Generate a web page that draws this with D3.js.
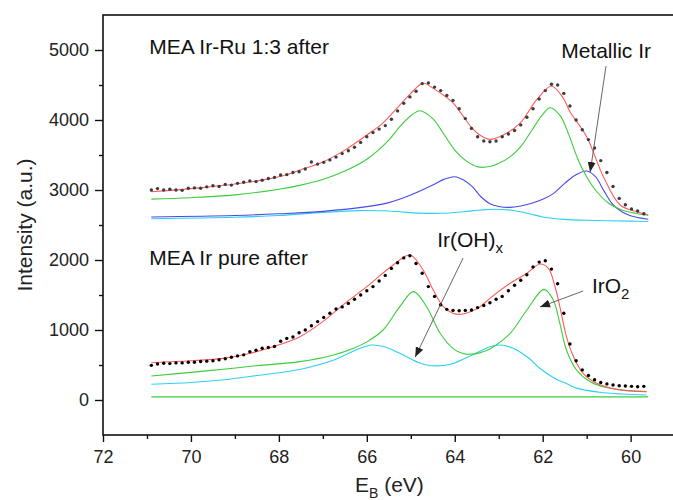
<!DOCTYPE html>
<html>
<head>
<meta charset="utf-8">
<script src="https://cdn.jsdelivr.net/npm/d3@7"></script>
<style>
  body { margin: 0; background: #fff; }
  svg { font-family: "Liberation Sans", Arial, sans-serif; }
</style>
</head>
<body>
<svg id="chart" width="673" height="500"></svg>
<script>
// binding energy axis of the measured points (eV), 0.14 eV steps
const eStart = 70.9, eStep = 0.14;

// measured points, MEA Ir-Ru 1:3 after
const dotsTop = [3000, 3020, 3000, 3010, 3000, 2995, 3025, 3030, 3025, 3045,
  3060, 3050, 3080, 3070, 3095, 3110, 3130, 3120, 3140, 3165,
  3180, 3215, 3220, 3250, 3260, 3300, 3400, 3370, 3395, 3430,
  3470, 3520, 3560, 3610, 3680, 3760, 3820, 3870, 3920, 4010,
  4130, 4240, 4330, 4410, 4520, 4530, 4470, 4420, 4350, 4280,
  4160, 4020, 3880, 3760, 3700, 3690, 3700, 3760, 3800, 3850,
  3930, 4040, 4160, 4300, 4420, 4510, 4500, 4380, 4200, 4000,
  3860, 3720, 3600, 3420, 3250, 3050, 2880, 2790, 2730, 2700, 2660];

// measured points, MEA Ir pure after
const dotsBottom = [495, 515, 525, 520, 530, 530, 540, 540, 550, 555,
  560, 575, 590, 610, 630, 645, 690, 710, 740, 750,
  765, 840, 880, 900, 960, 1000, 1060, 1120, 1180, 1240,
  1300, 1330, 1380, 1440, 1500, 1560, 1620, 1700, 1780, 1880,
  1960, 2030, 2060, 1950, 1810, 1620, 1480, 1360, 1295, 1280,
  1275, 1280, 1285, 1320, 1350, 1390, 1440, 1480, 1560, 1640,
  1710, 1790, 1900, 1970, 1990, 1870, 1660, 1240, 800, 560,
  430, 350, 290, 250, 230, 215, 205, 200, 195, 190, 195];

// fitted curves [eV, intensity]
const envTop = [[70.9, 2975], [70.0, 3020], [69.0, 3085], [68.0, 3190], [67.5, 3290],
  [67.0, 3400], [66.5, 3570], [66.0, 3786], [65.63, 3960], [65.25, 4214], [65.0, 4381],
  [64.8, 4500], [64.7, 4524], [64.49, 4452], [64.26, 4357], [64.03, 4238], [63.8, 4048],
  [63.6, 3880], [63.43, 3786], [63.2, 3724], [62.9, 3786], [62.52, 3952], [62.14, 4286],
  [61.8, 4486], [61.53, 4310], [61.38, 4119], [61.0, 3762], [60.62, 3190], [60.24, 2786],
  [59.86, 2690], [59.6, 2643]];
const oxideTop = [[70.9, 2870], [70.0, 2890], [69.0, 2930], [68.0, 3010], [67.5, 3070],
  [67.0, 3150], [66.5, 3270], [66.0, 3440], [65.5, 3714], [65.25, 3905], [65.0, 4060],
  [64.8, 4133], [64.5, 4020], [64.25, 3800], [64.0, 3570], [63.75, 3420], [63.47, 3330],
  [63.2, 3335], [63.0, 3381], [62.75, 3470], [62.5, 3620], [62.25, 3850], [62.0, 4080],
  [61.83, 4176], [61.6, 4060], [61.4, 3780], [61.2, 3440], [61.0, 3190], [60.8, 3000],
  [60.5, 2810], [60.2, 2714], [59.9, 2667], [59.6, 2640]];
const metalTop = [[70.9, 2615], [69.0, 2635], [68.0, 2660], [67.0, 2695], [66.0, 2762],
  [65.5, 2820], [65.0, 2929], [64.5, 3071], [64.25, 3152], [64.0, 3190], [63.8, 3143],
  [63.6, 3048], [63.4, 2900], [63.2, 2805], [63.0, 2765], [62.75, 2752], [62.5, 2771],
  [62.25, 2810], [62.0, 2867], [61.75, 2952], [61.5, 3095], [61.25, 3214], [61.0, 3271],
  [60.8, 3190], [60.6, 2980], [60.4, 2790], [60.2, 2690], [60.0, 2633], [59.6, 2581]];
const hydroxTop = [[70.9, 2590], [69.0, 2610], [68.0, 2635], [67.0, 2680], [66.2, 2705],
  [65.5, 2700], [64.8, 2670], [64.3, 2668], [63.8, 2690], [63.4, 2715], [63.1, 2724],
  [62.7, 2710], [62.3, 2660], [62.0, 2615], [61.5, 2580], [61.0, 2568], [60.0, 2555],
  [59.6, 2550]];

const envBottom = [[70.9, 533], [70.0, 560], [69.27, 595], [68.7, 660], [68.13, 762],
  [67.52, 905], [67.0, 1120], [66.5, 1380], [66.0, 1619], [65.4, 1929], [65.02, 2071],
  [64.72, 1857], [64.49, 1571], [64.26, 1333], [64.03, 1235], [63.85, 1225], [63.6, 1270],
  [63.43, 1330], [63.2, 1452], [62.74, 1667], [62.36, 1810], [62.06, 1943], [61.87, 1881],
  [61.72, 1619], [61.61, 1333], [61.46, 905], [61.3, 619], [61.08, 381], [60.77, 238],
  [60.32, 152], [59.64, 119]];
const oxideBottom = [[70.9, 343], [70.0, 395], [69.26, 440], [68.5, 490], [67.52, 548],
  [66.76, 643], [66.3, 740], [66.0, 830], [65.63, 1000], [65.25, 1333], [64.94, 1548],
  [64.64, 1333], [64.34, 960], [64.03, 730], [63.8, 660], [63.6, 655], [63.4, 680],
  [63.2, 730], [62.74, 952], [62.36, 1286], [61.97, 1581], [61.76, 1429], [61.61, 1095],
  [61.46, 714], [61.23, 429], [60.92, 262], [60.47, 167], [59.64, 119]];
const hydroxBottom = [[70.9, 224], [70.0, 250], [69.3, 286], [68.5, 350], [67.5, 440],
  [66.75, 570], [66.3, 700], [66.0, 771], [65.9, 786], [65.6, 760], [65.25, 667],
  [64.8, 530], [64.5, 490], [64.1, 510], [63.75, 600], [63.45, 690], [63.2, 762],
  [62.97, 786], [62.7, 745], [62.3, 590], [62.06, 450], [61.7, 300], [61.46, 235],
  [61.23, 170], [60.7, 110], [60.2, 85], [59.64, 71]];
const baseBottom = [[70.9, 45], [59.6, 45]];

// ticks
const xMajor = [72, 70, 68, 66, 64, 62, 60];
const xMinor = [71, 69, 67, 65, 63, 61];
const yMajor = [0, 1000, 2000, 3000, 4000, 5000];
const yMinor = [500, 1500, 2500, 3500, 4500];

const svg = d3.select("#chart");
const margin = { left: 103, right: 674.6, top: 15, bottom: 435 };

const x = d3.scaleLinear().domain([72, 59]).range([margin.left, margin.right]);
const y = d3.scaleLinear().domain([-500, 5500]).range([margin.bottom, margin.top]);

const line = d3.line()
  .x(d => x(d[0]))
  .y(d => y(d[1]))
  .curve(d3.curveCatmullRom.alpha(0.5));

const plot = svg.append("g");

function drawCurve(data, color) {
  plot.append("path")
    .datum(data)
    .attr("fill", "none")
    .attr("stroke", color)
    .attr("stroke-width", 1.1)
    .attr("d", line);
}

drawCurve(hydroxTop, "#2ad0f5");
drawCurve(metalTop, "#4a4ae8");
drawCurve(oxideTop, "#3ccc3c");
drawCurve(envTop, "#ff5a5a");

drawCurve(baseBottom, "#3ccc3c");
drawCurve(hydroxBottom, "#2ad0f5");
drawCurve(oxideBottom, "#3ccc3c");
drawCurve(envBottom, "#ff5a5a");

function drawDots(values, color) {
  plot.append("g")
    .selectAll("circle")
    .data(values)
    .join("circle")
    .attr("cx", (d, i) => x(eStart - i * eStep))
    .attr("cy", d => y(d))
    .attr("r", 1.7)
    .attr("fill", color);
}
drawDots(dotsTop, "#3c3c3c");
drawDots(dotsBottom, "#000");

// axes
const xAxis = svg.append("g")
  .attr("transform", `translate(0,${margin.bottom})`)
  .call(d3.axisBottom(x).tickValues(xMajor).tickSize(7).tickPadding(8).tickFormat(d3.format("d")));
const xMinorAxis = svg.append("g")
  .attr("transform", `translate(0,${margin.bottom})`)
  .call(d3.axisBottom(x).tickValues(xMinor).tickSize(4).tickFormat(""));
const yAxis = svg.append("g")
  .attr("transform", `translate(${margin.left},0)`)
  .call(d3.axisLeft(y).tickValues(yMajor).tickSize(8).tickPadding(6).tickFormat(d3.format("d")));
const yMinorAxis = svg.append("g")
  .attr("transform", `translate(${margin.left},0)`)
  .call(d3.axisLeft(y).tickValues(yMinor).tickSize(4).tickFormat(""));

[xAxis, xMinorAxis, yAxis, yMinorAxis].forEach(a => {
  a.select(".domain").remove();
  a.selectAll(".tick line").attr("stroke", "#111").attr("stroke-width", 1.4);
  a.selectAll(".tick text")
    .attr("font-size", 18)
    .attr("fill", "#222")
    .attr("font-family", "'Liberation Sans', Arial, sans-serif");
});

svg.append("rect")
  .attr("x", margin.left).attr("y", margin.top)
  .attr("width", margin.right - margin.left).attr("height", margin.bottom - margin.top)
  .attr("fill", "none")
  .attr("stroke", "#111")
  .attr("stroke-width", 1.6);

// axis titles
svg.append("text")
  .attr("transform", `translate(32,${(margin.top + margin.bottom) / 2}) rotate(-90)`)
  .attr("text-anchor", "middle")
  .attr("font-size", 21)
  .attr("fill", "#222")
  .text("Intensity (a.u.)");

const xt = svg.append("text")
  .attr("x", 355).attr("y", 492)
  .attr("font-size", 21)
  .attr("fill", "#222");
xt.append("tspan").text("E");
xt.append("tspan").attr("font-size", 14).attr("dy", 6).text("B");
xt.append("tspan").attr("dy", -6).text(" (eV)");

// labels and arrows, placed in data units
const labels = [
  { e: 70.95, v: 4943, main: "MEA Ir-Ru 1:3 after", sub: "" },
  { e: 70.95, v: 1929, main: "MEA Ir pure after", sub: "" },
  { e: 61.58, v: 4886, main: "Metallic Ir", sub: "" },
  { e: 64.40, v: 2186, main: "Ir(OH)", sub: "x" },
  { e: 60.88, v: 1529, main: "IrO", sub: "2" }
];
const arrows = [
  { from: [60.56, 4771], to: [60.92, 3257] },
  { from: [63.81, 2029], to: [64.90, 614] },
  { from: [61.08, 1557], to: [62.06, 1329] }
];

labels.forEach(l => {
  const t = svg.append("text")
    .attr("x", x(l.e)).attr("y", y(l.v))
    .attr("font-size", 21)
    .attr("fill", "#111");
  t.append("tspan").text(l.main);
  if (l.sub) t.append("tspan").attr("font-size", 15).attr("dy", 6).text(l.sub);
});

svg.append("defs").append("marker")
  .attr("id", "head")
  .attr("viewBox", "0 0 10 10")
  .attr("refX", 10).attr("refY", 5)
  .attr("markerWidth", 10).attr("markerHeight", 10)
  .attr("markerUnits", "userSpaceOnUse")
  .attr("orient", "auto")
  .append("path")
  .attr("d", "M0,1 L10,5 L0,9 Z")
  .attr("fill", "#222");

arrows.forEach(a => {
  svg.append("line")
    .attr("x1", x(a.from[0])).attr("y1", y(a.from[1]))
    .attr("x2", x(a.to[0])).attr("y2", y(a.to[1]))
    .attr("stroke", "#555")
    .attr("stroke-width", 0.9)
    .attr("marker-end", "url(#head)");
});
</script>
</body>
</html>
